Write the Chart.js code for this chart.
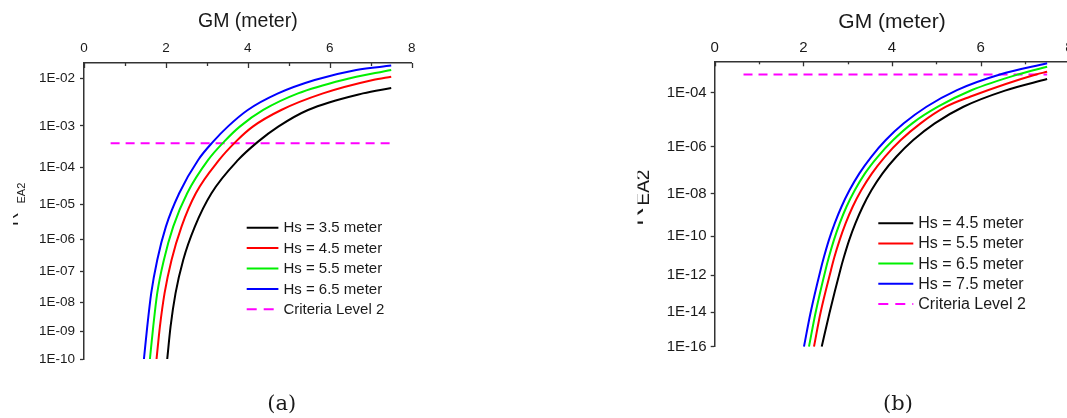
<!DOCTYPE html>
<html>
<head>
<meta charset="utf-8">
<script src="https://cdn.jsdelivr.net/npm/chart.js@4.4.1/dist/chart.umd.min.js"></script>
<style>
html,body{margin:0;padding:0;background:#fff;overflow:hidden;width:1067px;height:418px;position:relative;}
.box{position:absolute;top:0;height:418px;}
#boxA{left:0;width:560px;}
#boxB{left:600px;width:520px;}
canvas{display:block;}
</style>
</head>
<body>
<div class="box" id="boxA"><canvas id="chartA" width="560" height="418"></canvas></div>
<div class="box" id="boxB"><canvas id="chartB" width="520" height="418"></canvas></div>
<script>
// ---------------- data ----------------
const GM_TICKS = [0, 2, 4, 6, 8];
const GM_MINOR_TICKS = [1, 3, 5, 7];
const X_TITLE = 'GM (meter)';
const Y_TITLE_MAIN = 'R';
const Y_TITLE_SUB = 'EA2';
const CRITERIA_LABEL = 'Criteria Level 2';
const CRITERIA_VALUE = 3.9e-4;
const CRITERIA_GM = [0.65, 7.5];

// panel (a)
const A_PANEL = '(a)';
const A_LABELS = ['Hs = 3.5 meter', 'Hs = 4.5 meter', 'Hs = 5.5 meter', 'Hs = 6.5 meter'];
const A_Y_TICKS = [1e-2, 1e-3, 1e-4, 1e-5, 1e-6, 1e-7, 1e-8, 1e-9, 1e-10];
const A_Y_TICK_LABELS = ['1E-02', '1E-03', '1E-04', '1E-05', '1E-06', '1E-07', '1E-08', '1E-09', '1E-10'];
const A_GM_HS35 = [2.032, 2.113, 2.235, 2.422, 2.706, 3.112, 3.762, 4.250, 4.742, 5.469, 6.810, 7.5];
const A_R_HS35  = [1e-10, 1.45e-9, 2.0e-8, 2.34e-7, 2.38e-6, 2.07e-5, 1.53e-4, 4.28e-4, 9.57e-4, 2.24e-3, 5.0e-3, 6.43e-3];
const A_GM_HS45 = [1.771, 1.853, 1.967, 2.137, 2.381, 2.730, 3.299, 3.706, 4.120, 4.815, 5.835, 7.053, 7.5];
const A_R_HS45  = [1e-10, 1.45e-9, 2.0e-8, 2.34e-7, 2.38e-6, 2.07e-5, 1.53e-4, 4.28e-4, 9.57e-4, 2.24e-3, 5.0e-3, 9.25e-3, 1.07e-2];
const A_GM_HS55 = [1.609, 1.690, 1.788, 1.950, 2.178, 2.519, 3.031, 3.421, 3.803, 4.376, 5.225, 6.322, 7.5];
const A_R_HS55  = [1e-10, 1.45e-9, 2.0e-8, 2.34e-7, 2.38e-6, 2.07e-5, 1.53e-4, 4.28e-4, 9.57e-4, 2.24e-3, 5.0e-3, 9.25e-3, 1.44e-2];
const A_GM_HS65 = [1.463, 1.544, 1.641, 1.788, 1.999, 2.324, 2.787, 3.153, 3.510, 3.998, 4.737, 5.631, 6.647, 7.5];
const A_R_HS65  = [1e-10, 1.45e-9, 2.0e-8, 2.34e-7, 2.38e-6, 2.07e-5, 1.53e-4, 4.28e-4, 9.57e-4, 2.24e-3, 5.0e-3, 9.25e-3, 1.44e-2, 1.73e-2];

// panel (b)
const B_PANEL = '(b)';
const B_LABELS = ['Hs = 4.5 meter', 'Hs = 5.5 meter', 'Hs = 6.5 meter', 'Hs = 7.5 meter'];
const B_Y_TICKS = [1e-4, 1e-6, 1e-8, 1e-10, 1e-12, 1e-14, 1e-16];
const B_Y_TICK_LABELS = ['1E-04', '1E-06', '1E-08', '1E-10', '1E-12', '1E-14', '1E-16'];
const B_GM_HS45 = [2.414, 2.587, 2.833, 2.917, 3.034, 3.174, 3.339, 3.539, 3.787, 4.097, 4.480, 4.965, 5.612, 6.549, 7.5];
const B_R_HS45  = [1e-16, 8.3e-15, 1.86e-12, 9.1e-12, 6.3e-11, 4.1e-10, 2.48e-9, 1.42e-8, 7.62e-8, 3.78e-7, 1.78e-6, 7.8e-6, 3.16e-5, 1.15e-4, 2.77e-4];
const B_GM_HS55 = [2.240, 2.384, 2.623, 2.702, 2.818, 2.953, 3.113, 3.309, 3.548, 3.839, 4.198, 4.645, 5.218, 5.759, 7.248, 7.5];
const B_R_HS55  = [1e-16, 8.3e-15, 1.86e-12, 9.1e-12, 6.3e-11, 4.1e-10, 2.48e-9, 1.42e-8, 7.62e-8, 3.78e-7, 1.78e-6, 7.8e-6, 3.16e-5, 7.08e-5, 3.9e-4, 4.75e-4];
const B_GM_HS65 = [2.127, 2.272, 2.499, 2.578, 2.689, 2.820, 2.973, 3.163, 3.390, 3.677, 4.027, 4.457, 5.037, 5.804, 6.842, 7.5];
const B_R_HS65  = [1e-16, 8.3e-15, 1.86e-12, 9.1e-12, 6.3e-11, 4.1e-10, 2.48e-9, 1.42e-8, 7.62e-8, 3.78e-7, 1.78e-6, 7.8e-6, 3.16e-5, 1.2e-4, 3.9e-4, 6.81e-4];
const B_GM_HS75 = [2.014, 2.159, 2.387, 2.466, 2.576, 2.707, 2.860, 3.043, 3.264, 3.533, 3.860, 4.266, 4.778, 5.466, 6.436, 7.5];
const B_R_HS75  = [1e-16, 8.3e-15, 1.86e-12, 9.1e-12, 6.3e-11, 4.1e-10, 2.48e-9, 1.42e-8, 7.62e-8, 3.78e-7, 1.78e-6, 7.8e-6, 3.16e-5, 1.2e-4, 3.9e-4, 8.67e-4];

// ---------------- custom scale: power of decades ----------------
class PowerLogScale extends Chart.LogarithmicScale {
  configure() {
    super.configure();
    const p = this.options.power || 0.6;
    this._p = p;
    this._tTop = Math.pow(-Math.log10(this.max), p);
    this._tBot = Math.pow(-Math.log10(this.min), p);
  }
  getPixelForValue(value) {
    if (value === undefined || value === null || value <= 0) value = this.min;
    const t = Math.pow(-Math.log10(value), this._p);
    return this.getPixelForDecimal((this._tBot - t) / (this._tBot - this._tTop));
  }
  getValueForPixel(pixel) {
    const dec = this.getDecimalForPixel(pixel);
    const t = this._tBot - dec * (this._tBot - this._tTop);
    return Math.pow(10, -Math.pow(t, 1 / this._p));
  }
}
PowerLogScale.id = 'powerlog';
PowerLogScale.defaults = {};
Chart.register(PowerLogScale);

// ---------------- plugins ----------------
const SANS = "'Liberation Sans', Arial, sans-serif";
const AXIS_COLOR = '#333333';
const TEXT_COLOR = '#1a1a1a';

const boxLegend = {
  id: 'boxLegend',
  afterDraw(chart, args, o) {
    const ctx = chart.ctx;
    ctx.save();
    ctx.font = o.fontSize + 'px ' + SANS;
    ctx.textBaseline = 'middle';
    ctx.textAlign = 'left';
    chart.data.datasets.forEach((ds, i) => {
      const y = o.y + i * o.rowH;
      ctx.strokeStyle = ds.borderColor;
      ctx.lineWidth = ds.borderWidth;
      ctx.setLineDash(ds.borderDash ? o.dash : []);
      ctx.beginPath();
      ctx.moveTo(o.x, y);
      ctx.lineTo(o.x + o.len, y);
      ctx.stroke();
      ctx.setLineDash([]);
      ctx.fillStyle = TEXT_COLOR;
      ctx.fillText(ds.label, o.x + o.len + o.gap, y + 0.5);
    });
    ctx.restore();
  }
};

const innerTicks = {
  id: 'innerTicks',
  afterDraw(chart, args, o) {
    const s = chart.scales.x;
    const ctx = chart.ctx;
    const top = chart.chartArea.top;
    ctx.save();
    ctx.strokeStyle = AXIS_COLOR;
    ctx.lineWidth = 1.3;
    const draw = (v, len) => {
      const px = Math.round(s.getPixelForValue(v)) + 0.5;
      ctx.beginPath();
      ctx.moveTo(px, top);
      ctx.lineTo(px, top + len);
      ctx.stroke();
    };
    GM_TICKS.forEach(v => draw(v, o.major));
    GM_MINOR_TICKS.forEach(v => draw(v, o.minor));
    ctx.restore();
  }
};

const panelText = {
  id: 'panelText',
  afterDraw(chart, args, o) {
    const ctx = chart.ctx;
    o.items.forEach(it => {
      ctx.save();
      if (it.clip) {
        ctx.beginPath();
        ctx.rect(it.clip[0], it.clip[1], it.clip[2], it.clip[3]);
        ctx.clip();
      }
      ctx.fillStyle = TEXT_COLOR;
      ctx.font = it.font;
      ctx.translate(it.x, it.y);
      if (it.rot) ctx.rotate(it.rot * Math.PI / 180);
      ctx.textAlign = it.align || 'left';
      ctx.textBaseline = it.baseline || 'alphabetic';
      ctx.fillText(it.text, 0, 0);
      ctx.restore();
    });
  }
};

// ---------------- helpers ----------------
function series(label, gm, r, color) {
  return {
    label: label,
    data: gm.map((g, i) => ({ x: g, y: r[i] })),
    borderColor: color,
    backgroundColor: color,
    borderWidth: 2,
    pointRadius: 0,
    fill: false,
    cubicInterpolationMode: 'monotone'
  };
}
function criteria() {
  return {
    label: CRITERIA_LABEL,
    data: CRITERIA_GM.map(g => ({ x: g, y: CRITERIA_VALUE })),
    borderColor: '#ff00ff',
    backgroundColor: '#ff00ff',
    borderWidth: 2,
    borderDash: [9, 6],
    pointRadius: 0,
    fill: false
  };
}

function makeChart(id, cfg) {
  return new Chart(document.getElementById(id), {
    type: 'line',
    data: { datasets: cfg.datasets },
    options: {
      responsive: false,
      animation: false,
      events: [],
      layout: { padding: cfg.padding },
      plugins: {
        legend: { display: false },
        tooltip: { enabled: false },
        title: { display: false },
        boxLegend: cfg.legend,
        innerTicks: { major: cfg.tickMajor, minor: cfg.tickMinor },
        panelText: { items: cfg.texts }
      },
      scales: {
        x: {
          type: 'linear',
          position: 'top',
          min: 0,
          max: 8,
          afterFit: s => { s.height = cfg.xHeight; },
          afterBuildTicks: s => { s.ticks = GM_TICKS.map(v => ({ value: v })); },
          grid: { display: false, drawTicks: false },
          border: { display: true, color: AXIS_COLOR, width: 1.5 },
          ticks: {
            padding: cfg.xTickPad,
            font: { family: SANS, size: cfg.tickSize },
            color: TEXT_COLOR,
            maxRotation: 0,
            autoSkip: false
          },
          title: {
            display: true,
            text: X_TITLE,
            font: { family: SANS, size: cfg.titleSize },
            color: TEXT_COLOR,
            padding: { top: cfg.titlePad, bottom: 0 }
          }
        },
        y: {
          type: 'powerlog',
          power: 0.6,
          position: 'left',
          min: cfg.yMin,
          max: cfg.yMax,
          bounds: 'data',
          afterFit: s => { s.width = cfg.yWidth; },
          afterBuildTicks: s => { s.ticks = cfg.yTicks.map(v => ({ value: v })); },
          grid: { display: true, drawOnChartArea: false, drawTicks: true, tickLength: 4, tickColor: AXIS_COLOR, tickWidth: 1.3 },
          border: { display: true, color: AXIS_COLOR, width: 1.5 },
          ticks: {
            callback: (v, i) => cfg.yTickLabels[i],
            padding: cfg.yTickPad,
            font: { family: SANS, size: cfg.tickSize },
            color: TEXT_COLOR,
            autoSkip: false
          }
        }
      }
    },
    plugins: [boxLegend, innerTicks, panelText]
  });
}

// ---------------- chart (a) ----------------
makeChart('chartA', {
  datasets: [
    series(A_LABELS[0], A_GM_HS35, A_R_HS35, '#000000'),
    series(A_LABELS[1], A_GM_HS45, A_R_HS45, '#ff0000'),
    series(A_LABELS[2], A_GM_HS55, A_R_HS55, '#00f000'),
    series(A_LABELS[3], A_GM_HS65, A_R_HS65, '#0000ff'),
    criteria()
  ],
  padding: { left: 0, top: 0, right: 148.3, bottom: 59 },
  xHeight: 63, yWidth: 84,
  xTickPad: 6.6, yTickPad: 5,
  tickSize: 13.5, titleSize: 19.5, titlePad: 10.3,
  tickMajor: 5, tickMinor: 3,
  yMin: 1e-10, yMax: 0.0193,
  yTicks: A_Y_TICKS, yTickLabels: A_Y_TICK_LABELS,
  legend: { x: 246.7, y: 227.7, rowH: 20.4, len: 31.7, gap: 5, fontSize: 15, dash: [10, 7] },
  texts: [
    { text: A_PANEL, x: 281.7, y: 405, font: "21px 'DejaVu Serif', serif", align: 'center', baseline: 'middle' },
    { text: Y_TITLE_MAIN, x: 18, y: 226, rot: -90, font: '19px ' + SANS, clip: [13, 0, 200, 418] },
    { text: Y_TITLE_SUB, x: 25, y: 203.5, rot: -90, font: '11px ' + SANS, clip: [13, 0, 200, 418] }
  ]
});

// ---------------- chart (b) ----------------
makeChart('chartB', {
  datasets: [
    series(B_LABELS[0], B_GM_HS45, B_R_HS45, '#000000'),
    series(B_LABELS[1], B_GM_HS55, B_R_HS55, '#ff0000'),
    series(B_LABELS[2], B_GM_HS65, B_R_HS65, '#00f000'),
    series(B_LABELS[3], B_GM_HS75, B_R_HS75, '#0000ff'),
    criteria()
  ],
  padding: { left: 0, top: 0, right: 50.7, bottom: 71.3 },
  xHeight: 61.3, yWidth: 114.7,
  xTickPad: 4.8, yTickPad: 4,
  tickSize: 15, titleSize: 21, titlePad: 9.9,
  tickMajor: 5, tickMinor: 3,
  yMin: 1e-16, yMax: 1e-3,
  yTicks: B_Y_TICKS, yTickLabels: B_Y_TICK_LABELS,
  legend: { x: 278.3, y: 223.3, rowH: 20.15, len: 35, gap: 5, fontSize: 16, dash: [10, 7] },
  texts: [
    { text: B_PANEL, x: 298, y: 405, font: "21px 'DejaVu Serif', serif", align: 'center', baseline: 'middle' },
    { text: Y_TITLE_MAIN, x: 43, y: 226, rot: -90, font: '26px ' + SANS, clip: [37.5, 0, 200, 418] },
    { text: Y_TITLE_SUB, x: 48.5, y: 205.5, rot: -90, font: '19px ' + SANS, clip: [37.5, 0, 200, 418] }
  ]
});
</script>
</body>
</html>
